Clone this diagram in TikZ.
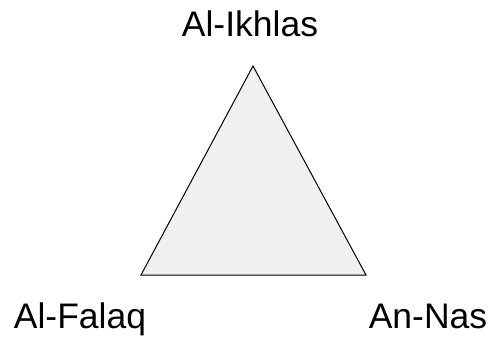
\documentclass[tikz,border=0pt]{standalone}
\usepackage{fontspec}
\setmainfont{Liberation Sans}
\definecolor{trifill}{RGB}{240,240,240}
\begin{document}
\begin{tikzpicture}[x=1pt,y=-1pt,
  lbl/.style={anchor=base,inner sep=0pt,font=\fontsize{35.5}{36}\selectfont}]
\useasboundingbox (0,0) rectangle (491,337);
\coordinate (top) at (253,66);
\coordinate (bl) at (141,275);
\coordinate (br) at (366,275);
\draw[fill=trifill,line width=1pt,line join=miter] (top) -- (bl) -- (br) -- cycle;
\node[lbl] (ikhlas) at (250,37) {Al-Ikhlas};
\node[lbl] (falaq) at (80,328) {Al-Falaq};
\node[lbl] (nas) at (428,328) {An-Nas};
\end{tikzpicture}
\end{document}
